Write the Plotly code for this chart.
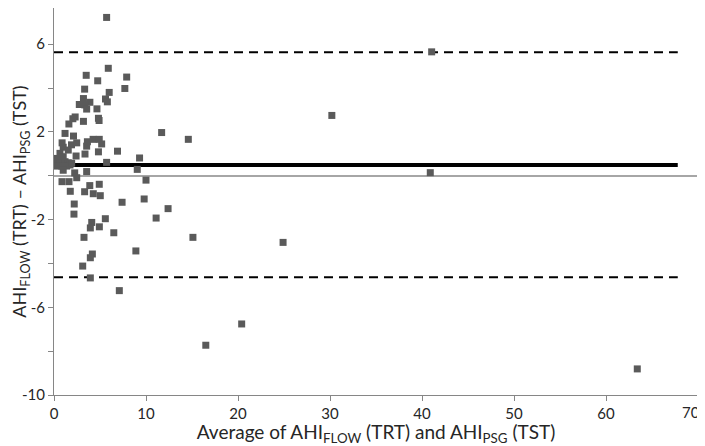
import plotly.graph_objects as go

# Bland-Altman: average (x) vs difference (y)
avg_ahi = [
    5.72, 41.05, 5.9, 3.5, 7.9, 4.75, 3.33, 7.7, 6.0, 3.2, 5.6, 5.8, 3.9, 2.75,
    3.35, 3.55, 4.67, 30.2, 2.3, 2.05, 4.83, 4.9, 3.2, 1.62, 11.7, 1.2, 2.12,
    14.6, 0.88, 1.9, 2.47, 3.63, 4.25, 4.92, 5.18, 3.55, 1.0, 1.55, 6.9, 4.83,
    3.37, 0.65, 2.4, 0.36, 1.0, 9.3, 5.72, 0.29, 0.65, 1.2, 1.55, 1.74, 0.29,
    0.84, 1.38, 1.92, 9.05, 1.0, 3.55, 2.25, 40.9, 2.47, 10.0, 0.87, 1.63, 3.89,
    4.92, 1.77, 3.33, 4.27, 5.03, 9.8, 7.4, 2.2, 12.4, 2.17, 11.1, 5.58, 4.1,
    4.93, 3.95, 6.5, 15.1, 3.26, 24.9, 8.9, 4.17, 3.95, 3.12, 3.95, 7.1, 20.4,
    16.5, 63.4,
]
diff_ahi = [
    7.22, 5.65, 4.9, 4.58, 4.5, 4.33, 3.95, 3.98, 3.8, 3.52, 3.5, 3.37, 3.35,
    3.25, 3.23, 3.04, 3.05, 2.75, 2.68, 2.6, 2.62, 2.52, 2.48, 2.36, 1.97, 1.93,
    1.81, 1.66, 1.5, 1.41, 1.5, 1.55, 1.66, 1.66, 1.45, 1.35, 1.3, 1.17, 1.12,
    1.09, 0.99, 1.02, 0.9, 0.79, 0.87, 0.81, 0.61, 0.64, 0.57, 0.64, 0.59, 0.49,
    0.44, 0.44, 0.44, 0.57, 0.29, 0.25, 0.19, 0.13, 0.14, -0.09, -0.2, -0.27,
    -0.27, -0.45, -0.39, -0.71, -0.73, -0.82, -0.91, -1.06, -1.21, -1.29, -1.5,
    -1.75, -1.93, -1.96, -2.13, -2.33, -2.38, -2.6, -2.81, -2.81, -3.04, -3.43,
    -3.57, -3.74, -4.12, -4.66, -5.24, -6.76, -7.73, -8.81,
]

mean_diff = 0.49
upper_loa = 5.63
lower_loa = -4.63
line_x = [0, 67.8]

x_ticks = [0, 10, 20, 30, 40, 50, 60, 70]
# last label is drawn separately so it is not clipped at the right edge
x_labels = ["0", "10", "20", "30", "40", "50", "60", ""]
y_ticks = [-10, -8, -6, -4, -2, 0, 2, 4, 6, 8]
y_labels = ["-10", "", "-6", "", "-2", "", "2", "", "6", ""]

fig = go.Figure()

fig.add_trace(go.Scatter(
    x=line_x, y=[upper_loa, upper_loa], mode="lines",
    line=dict(color="black", width=2, dash="9px,6px"), hoverinfo="skip"))
fig.add_trace(go.Scatter(
    x=line_x, y=[lower_loa, lower_loa], mode="lines",
    line=dict(color="black", width=2, dash="9px,6px"), hoverinfo="skip"))
fig.add_trace(go.Scatter(
    x=line_x, y=[mean_diff, mean_diff], mode="lines",
    line=dict(color="black", width=4), hoverinfo="skip"))

fig.add_trace(go.Scatter(
    x=avg_ahi, y=diff_ahi, mode="markers",
    marker=dict(symbol="square", size=7, color="#5a5a5a")))

font_family = "Lato, Noto Sans, sans-serif"

# page body has an 8px margin, so the figure is sized to fit what remains
fig.update_layout(
    width=697, height=438,
    margin=dict(l=46, r=7, t=0, b=51),
    plot_bgcolor="white", paper_bgcolor="white",
    showlegend=False,
    font=dict(family=font_family, color="#262626"),
)

fig.add_annotation(
    text=str(x_ticks[-1]), x=x_ticks[-1], xref="x", y=0, yref="paper",
    xanchor="center", yanchor="top", xshift=-7, yshift=-6,
    showarrow=False, font=dict(size=15),
)

fig.update_xaxes(
    range=[0, 70], tickvals=x_ticks, ticktext=x_labels,
    showgrid=False, zeroline=False, automargin=False,
    showline=True, linecolor="#868686", linewidth=1,
    ticks="outside", ticklen=5, tickcolor="#868686",
    tickfont=dict(size=15),
    title=dict(text="Average of AHI<sub>FLOW</sub> (TRT) and AHI<sub>PSG</sub> (TST)",
               font=dict(size=19), standoff=7),
)
fig.update_yaxes(
    range=[-10, 7.65], tickvals=y_ticks, ticktext=y_labels,
    showgrid=False, automargin=False,
    zeroline=True, zerolinecolor="#a6a6a6", zerolinewidth=1.5,
    showline=True, linecolor="#868686", linewidth=1,
    ticks="outside", ticklen=5, tickcolor="#868686",
    tickfont=dict(size=15),
    title=dict(text="AHI<sub>FLOW</sub> (TRT) – AHI<sub>PSG</sub> (TST)",
               font=dict(size=18), standoff=2),
)

fig.write_html("out.html")
